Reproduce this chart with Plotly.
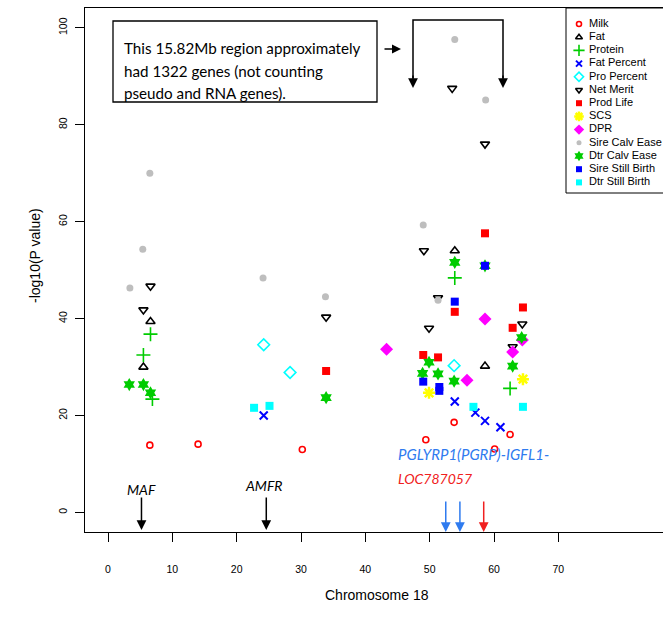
import plotly.graph_objects as go

# ---------------- data ----------------
traits = ["Milk", "Fat", "Protein", "Fat Percent", "Pro Percent", "Net Merit",
          "Prod Life", "SCS", "DPR", "Sire Calv Ease", "Dtr Calv Ease",
          "Sire Still Birth", "Dtr Still Birth"]

milk_x = [6.5, 14.0, 30.2, 49.4, 53.8, 60.1, 62.5]
milk_y = [13.9, 14.1, 13.0, 15.0, 18.6, 13.1, 16.1]
fat_x = [6.6, 5.5, 53.9, 58.6]
fat_y = [39.4, 30.0, 54.0, 30.2]
protein_x = [6.6, 5.5, 6.9, 53.9, 62.5]
protein_y = [36.8, 32.5, 23.4, 48.4, 25.6]
fatpct_x = [24.2, 53.9, 57.1, 58.6, 61.0]
fatpct_y = [20.0, 22.9, 20.6, 18.9, 17.6]
propct_x = [24.2, 28.3, 53.8]
propct_y = [34.6, 28.9, 30.3]
netmerit_x = [6.6, 5.5, 33.9, 49.1, 51.3, 49.9, 53.5, 58.6, 64.4, 62.9]
netmerit_y = [46.7, 41.8, 40.3, 54.0, 44.3, 38.0, 87.5, 76.0, 38.9, 34.2]
prodlife_x = [58.6, 53.9, 64.5, 62.9, 49.0, 51.3, 33.9]
prodlife_y = [57.6, 41.4, 42.3, 38.1, 32.5, 32.0, 29.2]
scs_x = [49.9, 64.5]
scs_y = [24.7, 27.5]
dpr_x = [43.3, 55.8, 58.6, 62.9, 64.4]
dpr_y = [33.7, 27.3, 39.9, 33.1, 35.6]
sirecalv_x = [6.5, 5.4, 3.4, 24.1, 33.8, 49.0, 51.3, 53.9, 58.7]
sirecalv_y = [70.0, 54.3, 46.3, 48.4, 44.5, 59.3, 43.8, 97.6, 85.1]
dtrcalv_x = [3.3, 5.5, 6.6, 33.9, 53.9, 58.6, 49.9, 48.9, 51.3, 53.8, 62.9, 64.3]
dtrcalv_y = [26.4, 26.4, 24.7, 23.7, 51.6, 50.9, 31.0, 28.7, 28.6, 27.1, 30.2, 36.1]
sirestill_x = [49.0, 51.5, 51.5, 53.9, 58.6]
sirestill_y = [27.0, 25.9, 25.1, 43.5, 50.9]
dtrstill_x = [22.7, 25.1, 56.8, 64.5]
dtrstill_y = [21.6, 22.0, 21.8, 21.8]

x_ticks = [0, 10, 20, 30, 40, 50, 60, 70]
y_ticks = [0, 20, 40, 60, 80, 100]

gene_names = ["MAF", "AMFR"]
gene_pos = [5.2, 24.6]
blue_gene_pos = [52.5, 54.7]
red_gene_pos = [58.4]

box_lines = ["This 15.82Mb region approximately",
             "had 1322 genes (not counting",
             "pseudo and RNA genes)."]

# ---------------- styles ----------------
GREEN = "#00CC00"
styles = [
    dict(symbol="circle-open", color="#FF0000", size=6, line=dict(width=1.6, color="#FF0000")),
    dict(symbol="triangle-up-open", color="#000000", size=8, line=dict(width=1.6, color="#000000")),
    dict(symbol="cross-thin-open", color=GREEN, size=10, line=dict(width=1.6, color=GREEN)),
    dict(symbol="x-thin-open", color="#0000FF", size=8, line=dict(width=2, color="#0000FF")),
    dict(symbol="diamond-open", color="#00FFFF", size=9, line=dict(width=1.6, color="#00FFFF")),
    dict(symbol="triangle-down-open", color="#000000", size=8, line=dict(width=1.6, color="#000000")),
    dict(symbol="square", color="#FF0000", size=8, line=dict(width=0)),
    dict(symbol="asterisk-open", color="#FFFF00", size=10, line=dict(width=2.5, color="#FFFF00")),
    dict(symbol="diamond", color="#FF00FF", size=10, line=dict(width=0)),
    dict(symbol="circle", color="#BEBEBE", size=7, line=dict(width=0)),
    dict(symbol="hexagram", color=GREEN, size=10, line=dict(width=0)),
    dict(symbol="square", color="#0000FF", size=8, line=dict(width=0)),
    dict(symbol="square", color="#00FFFF", size=8, line=dict(width=0)),
]
series = [(milk_x, milk_y), (fat_x, fat_y), (protein_x, protein_y), (fatpct_x, fatpct_y),
          (propct_x, propct_y), (netmerit_x, netmerit_y), (prodlife_x, prodlife_y),
          (scs_x, scs_y), (dpr_x, dpr_y), (sirecalv_x, sirecalv_y), (dtrcalv_x, dtrcalv_y),
          (sirestill_x, sirestill_y), (dtrstill_x, dtrstill_y)]

W, H = 663, 618
L, T, B = 85, 8, 532


def pxx(p):
    return (p - L) / (W - L)


def pxy(p):
    return (B - p) / (B - T)


fig = go.Figure()
for name, (xs, ys), st in zip(traits, series, styles):
    fig.add_trace(go.Scatter(x=xs, y=ys, mode="markers", name=name, showlegend=False,
                             marker=st, hoverinfo="x+y+name"))

# manual legend (R style, tight spacing) on an overlay pixel axis
leg_top, leg_step = 24, 13.2
for i, (name, st) in enumerate(zip(traits, styles)):
    st2 = dict(st)
    st2["size"] = max(5, st["size"] - 2)
    fig.add_trace(go.Scatter(x=[579], y=[leg_top + i * leg_step], xaxis="x2", yaxis="y2",
                             mode="markers", marker=st2, showlegend=False, hoverinfo="skip"))
fig.add_trace(go.Scatter(x=[589] * len(traits), y=[leg_top + i * leg_step for i in range(len(traits))],
                         xaxis="x2", yaxis="y2", mode="text", text=traits,
                         textposition="middle right",
                         textfont=dict(family="Liberation Sans, Arial", size=11, color="#000"),
                         showlegend=False, hoverinfo="skip"))

shapes = [
    # legend box
    dict(type="rect", xref="paper", yref="paper", x0=pxx(566), x1=pxx(720), y0=pxy(193), y1=pxy(8),
         line=dict(color="#000", width=1)),
    # text box
    dict(type="rect", xref="paper", yref="paper", x0=pxx(113), x1=pxx(377), y0=pxy(102), y1=pxy(21),
         line=dict(color="#000", width=1.3)),
    # bracket top line
    dict(type="path", xref="paper", yref="paper",
         path=f"M {pxx(413)},{pxy(78)} L {pxx(413)},{pxy(20)} L {pxx(503)},{pxy(20)} L {pxx(503)},{pxy(78)}",
         line=dict(color="#000", width=1.5)),
]

annotations = []
# y axis title
annotations.append(dict(xref="paper", yref="paper", x=pxx(25), y=pxy(256), text="-log10(P value)",
                        textangle=-90, showarrow=False,
                        font=dict(family="Liberation Sans, Arial", size=14, color="#000")))
# x axis title
annotations.append(dict(xref="paper", yref="paper", x=pxx(377), y=pxy(605), text="Chromosome 18",
                        showarrow=False, font=dict(family="Liberation Sans, Arial", size=14, color="#000")))
# text box lines
for i, line in enumerate(box_lines):
    annotations.append(dict(xref="paper", yref="paper", x=pxx(122), y=pxy(37 + i * 22.5), text=line,
                            xanchor="left", showarrow=False,
                            font=dict(family="Lato, Noto Sans", size=15.2, color="#000")))
# arrow from box to bracket
annotations.append(dict(xref="paper", yref="paper", x=pxx(401), y=pxy(49), ax=-18, ay=0, text="",
                        showarrow=True, arrowhead=2, arrowsize=1.2, arrowwidth=1.5, arrowcolor="#000"))
# bracket arrows
for bx in (413, 503):
    annotations.append(dict(xref="paper", yref="paper", x=pxx(bx), y=pxy(88), ax=0, ay=-14, text="",
                            showarrow=True, arrowhead=2, arrowsize=1.3, arrowwidth=1.5, arrowcolor="#000"))

tip_y = -3.6
for name, gx in zip(gene_names, gene_pos):
    annotations.append(dict(x=gx, y=tip_y, ax=0, ay=-34, text="", showarrow=True,
                            arrowhead=2, arrowsize=1.3, arrowwidth=1.5, arrowcolor="#000"))
annotations.append(dict(x=gene_pos[0], y=4.7, text="<i>MAF</i>", showarrow=False,
                        font=dict(family="Lato, Noto Sans", size=14, color="#000")))
annotations.append(dict(x=gene_pos[1] - 0.4, y=5.5, text="<i>AMFR</i>", showarrow=False,
                        font=dict(family="Lato, Noto Sans", size=14, color="#000")))
for gx in blue_gene_pos:
    annotations.append(dict(x=gx, y=tip_y - 0.4, ax=0, ay=-32, text="", showarrow=True,
                            arrowhead=2, arrowsize=1.3, arrowwidth=1.5, arrowcolor="#2F7BEF"))
for gx in red_gene_pos:
    annotations.append(dict(x=gx, y=tip_y - 0.4, ax=0, ay=-32, text="", showarrow=True,
                            arrowhead=2, arrowsize=1.3, arrowwidth=1.5, arrowcolor="#F02020"))
annotations.append(dict(xref="paper", yref="paper", x=pxx(396), y=pxy(465), xanchor="left",
                        text="<i>PGLYRP1(PGRP)-IGFL1-</i>", showarrow=False,
                        font=dict(family="Lato, Noto Sans", size=15, color="#2F7BEF")))
annotations.append(dict(xref="paper", yref="paper", x=pxx(396), y=pxy(489), xanchor="left",
                        text="<i>LOC787057</i>", showarrow=False,
                        font=dict(family="Lato, Noto Sans", size=14, color="#F02020")))

axis_font = dict(family="Liberation Sans, Arial", size=10.5, color="#000")
fig.update_layout(
    width=W, height=H,
    margin=dict(l=L, r=0, t=T, b=H - B, pad=0),
    paper_bgcolor="white", plot_bgcolor="white",
    showlegend=False,
    xaxis=dict(range=[-3.58, 86.27], tickvals=x_ticks, ticks="outside", ticklen=9, tickwidth=1,
               tickcolor="#000", showline=True, linecolor="#000", linewidth=1, mirror=True,
               showgrid=False, zeroline=False, tickfont=axis_font, ticklabelstandoff=18),
    yaxis=dict(range=[-4.02, 104.08], tickvals=y_ticks, ticks="outside", ticklen=9, tickwidth=1,
               tickcolor="#000", showline=True, linecolor="#000", linewidth=1,
               showgrid=False, zeroline=False, tickfont=axis_font, tickangle=-90,
               ticklabelstandoff=4),
    xaxis2=dict(range=[L, W], overlaying="x", visible=False, fixedrange=True),
    yaxis2=dict(range=[B, T], overlaying="y", visible=False, fixedrange=True),
    shapes=shapes,
    annotations=annotations,
)

fig.write_html("out.html")
